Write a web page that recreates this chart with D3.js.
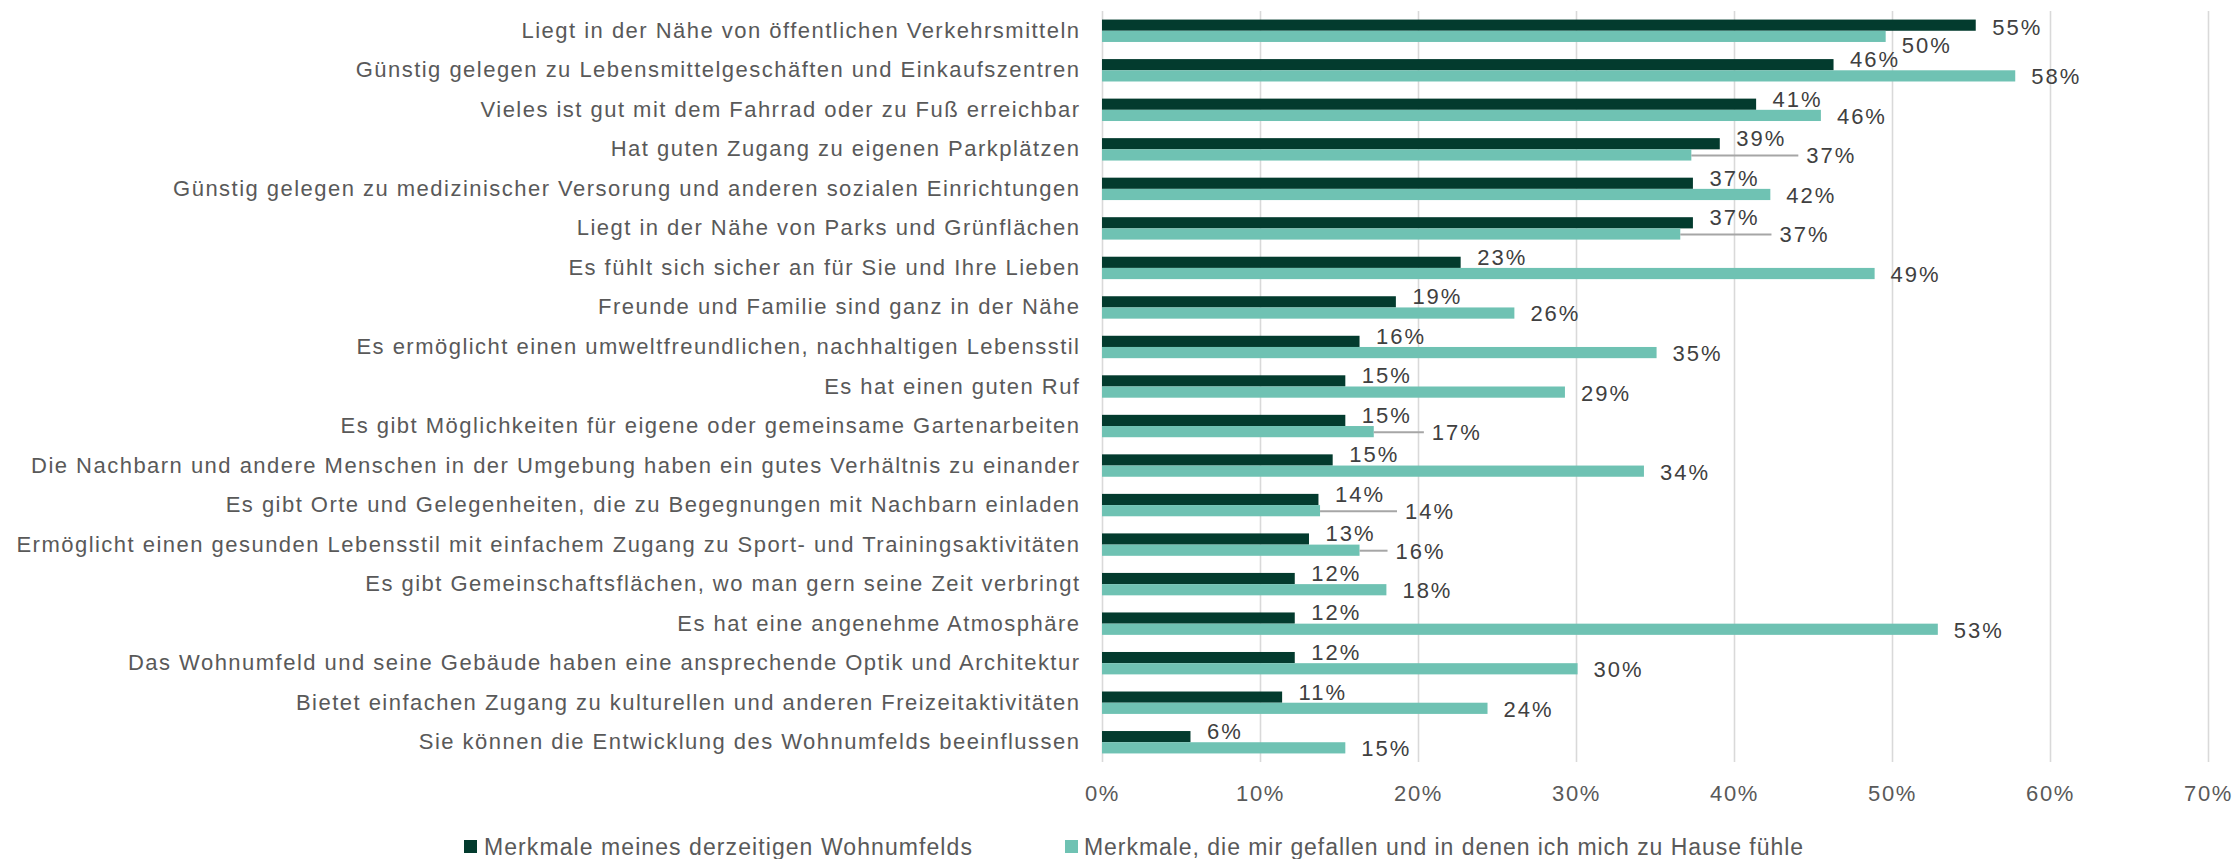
<!DOCTYPE html>
<html>
<head>
<meta charset="utf-8">
<script src="https://cdn.jsdelivr.net/npm/d3@7/dist/d3.min.js"></script>
<style>
  html, body { margin: 0; padding: 0; background: #ffffff; }
  svg { display: block; }
  text { font-family: "Liberation Sans", Arial, sans-serif; }
</style>
</head>
<body>
<svg id="chart" width="2239" height="859"></svg>
<script>
const categories = [
  "Liegt in der Nähe von öffentlichen Verkehrsmitteln",
  "Günstig gelegen zu Lebensmittelgeschäften und Einkaufszentren",
  "Vieles ist gut mit dem Fahrrad oder zu Fuß erreichbar",
  "Hat guten Zugang zu eigenen Parkplätzen",
  "Günstig gelegen zu medizinischer Versorung und anderen sozialen Einrichtungen",
  "Liegt in der Nähe von Parks und Grünflächen",
  "Es fühlt sich sicher an für Sie und Ihre Lieben",
  "Freunde und Familie sind ganz in der Nähe",
  "Es ermöglicht einen umweltfreundlichen, nachhaltigen Lebensstil",
  "Es hat einen guten Ruf",
  "Es gibt Möglichkeiten für eigene oder gemeinsame Gartenarbeiten",
  "Die Nachbarn und andere Menschen in der Umgebung haben ein gutes Verhältnis zu einander",
  "Es gibt Orte und Gelegenheiten, die zu Begegnungen mit Nachbarn einladen",
  "Ermöglicht einen gesunden Lebensstil mit einfachem Zugang zu Sport- und Trainingsaktivitäten",
  "Es gibt Gemeinschaftsflächen, wo man gern seine Zeit verbringt",
  "Es hat eine angenehme Atmosphäre",
  "Das Wohnumfeld und seine Gebäude haben eine ansprechende Optik und Architektur",
  "Bietet einfachen Zugang zu kulturellen und anderen Freizeitaktivitäten",
  "Sie können die Entwicklung des Wohnumfelds beeinflussen"
];
const currentValues = [55.3, 46.3, 41.4, 39.1, 37.4, 37.4, 22.7, 18.6, 16.3, 15.4, 15.4, 14.6, 13.7, 13.1, 12.2, 12.2, 12.2, 11.4, 5.6];
const preferredValues = [49.6, 57.8, 45.5, 37.3, 42.3, 36.6, 48.9, 26.1, 35.1, 29.3, 17.2, 34.3, 13.8, 16.3, 18.0, 52.9, 30.1, 24.4, 15.4];
const seriesNames = [
  "Merkmale meines derzeitigen Wohnumfelds",
  "Merkmale, die mir gefallen und in denen ich mich zu Hause fühle"
];
const tickValues = [0, 10, 20, 30, 40, 50, 60, 70];

const colors = ["#033b2e", "#6fc2b3"];
const svg = d3.select("#chart");
svg.append("rect").attr("width", 2239).attr("height", 859).attr("fill", "#fff");

const plotTop = 11, plotBottom = 762;
const x = d3.scaleLinear().domain([0, 70]).range([1102, 2208]);
const y = d3.scaleBand().domain(categories).range([plotTop, plotBottom]).padding(0);
const barH = 11.2;

// gridlines + axis labels
const axis = d3.axisBottom(x).tickValues(tickValues)
  .tickSizeInner(-(plotBottom - plotTop)).tickSizeOuter(0)
  .tickFormat(d => d + "%");
const gAxis = svg.append("g").attr("transform", `translate(0,${plotBottom})`).call(axis);
gAxis.select(".domain").remove();
gAxis.selectAll(".tick line").attr("stroke", "#d9d9d9").attr("stroke-width", 1.6);
gAxis.selectAll(".tick text")
  .attr("y", 39).attr("dy", null)
  .attr("fill", "#595959")
  .style("font-size", "22px")
  .style("letter-spacing", "1.6px")
  .style("font-family", "'Liberation Sans', Arial, sans-serif");

// category labels
const catG = svg.append("g");
const catLabels = catG.selectAll("text").data(categories).join("text")
  .attr("x", 1079)
  .attr("y", d => y(d) + y.bandwidth() / 2 + 7)
  .attr("text-anchor", "end")
  .attr("fill", "#595959")
  .style("font-size", "22px")
  .text(d => d);
let maxW = 0, maxN = 1;
catLabels.each(function(d) {
  const w = this.getComputedTextLength();
  if (w > maxW) { maxW = w; maxN = d.length; }
});
const catLs = Math.max(0, (1064 - maxW) / maxN);
catLabels.style("letter-spacing", catLs + "px").attr("x", 1079 + catLs);

// bars
const rows = categories.map((c, i) => ({ c, cur: currentValues[i], pref: preferredValues[i] }));
const barsG = svg.append("g");
barsG.selectAll("rect.cur").data(rows).join("rect").attr("class", "cur")
  .attr("x", x(0)).attr("y", d => y(d.c) + y.bandwidth() / 2 - barH)
  .attr("width", d => x(d.cur) - x(0)).attr("height", barH)
  .attr("fill", colors[0]);
barsG.selectAll("rect.pref").data(rows).join("rect").attr("class", "pref")
  .attr("x", x(0)).attr("y", d => y(d.c) + y.bandwidth() / 2)
  .attr("width", d => x(d.pref) - x(0)).attr("height", barH)
  .attr("fill", colors[1]);

// data labels
const lblG = svg.append("g");
const lblStyle = sel => sel.attr("fill", "#404040").style("font-size", "22px").style("letter-spacing", "2px");
const capHalf = 7.9;
rows.forEach(d => {
  const cy = y(d.c) + y.bandwidth() / 2;
  const darkC = Math.max(cy - barH / 2 - 5.5, plotTop + 16);
  let tealC = cy + barH / 2 + 0.5;
  const dx = x(d.cur) + 16.5;
  const dl = lblG.append("text").attr("x", dx).attr("y", darkC + capHalf)
    .text(Math.round(d.cur) + "%").call(lblStyle);
  const dw = dl.node().getComputedTextLength();
  const darkRight = dx + dw;
  const tEnd = x(d.pref);
  let tx = tEnd + 16;
  const tl = lblG.append("text").text(Math.round(d.pref) + "%").call(lblStyle);
  const tw = tl.node().getComputedTextLength();
  let pushed = false;
  if (tx < darkRight + 5 && tx + tw > dx - 5) { tx = darkRight + 20; pushed = true; }
  if (!pushed && tx < x(d.cur)) { tealC += 8; }
  if (pushed) {
    lblG.append("line").attr("x1", tEnd).attr("x2", tx - 8)
      .attr("y1", tealC).attr("y2", tealC)
      .attr("stroke", "#a6a6a6").attr("stroke-width", 2);
  }
  tl.attr("x", tx).attr("y", tealC + capHalf);
});

// legend
const legG = svg.append("g");
const legendPos = [{ sx: 464, tx: 484, w: 489 }, { sx: 1065, tx: 1084, w: 720 }];
seriesNames.forEach((name, i) => {
  legG.append("rect").attr("x", legendPos[i].sx).attr("y", 840).attr("width", 13).attr("height", 13)
    .attr("fill", colors[i]);
  const t = legG.append("text").attr("x", legendPos[i].tx).attr("y", 855)
    .attr("fill", "#595959").style("font-size", "23px").text(name);
  const w = t.node().getComputedTextLength();
  t.style("letter-spacing", ((legendPos[i].w - w) / name.length) + "px");
});
</script>
</body>
</html>
